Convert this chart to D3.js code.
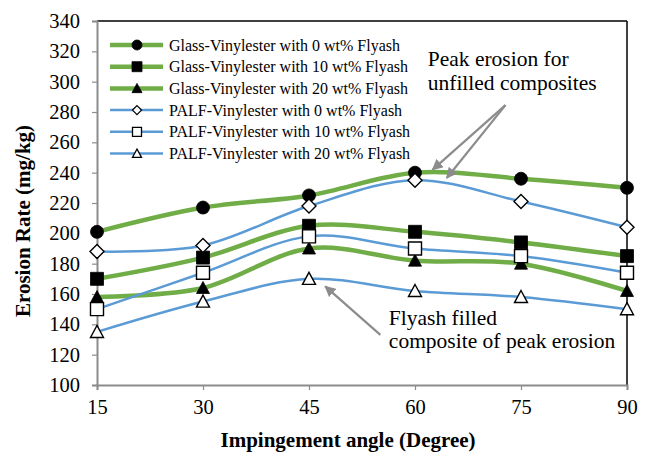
<!DOCTYPE html>
<html>
<head>
<meta charset="utf-8">
<script src="https://cdn.jsdelivr.net/npm/d3@7"></script>
<style>
  body { margin: 0; background: #fff; }
  svg text { font-family: "Liberation Serif", "Times New Roman", serif; fill: #000; }
</style>
</head>
<body>
<svg id="chart" width="649" height="460"></svg>
<script>
// data
const angles = [15, 30, 45, 60, 75, 90];
const glass0 = [201, 217, 225, 240, 236, 230];
const glass10 = [170, 184, 205, 201, 194, 185];
const glass20 = [158, 164, 190, 182, 180, 162];
const palf0 = [188, 192, 218, 235, 221, 204];
const palf10 = [150, 174, 198, 190, 185, 174];
const palf20 = [135, 155, 170, 162, 158, 150];
const yTicks = [100, 120, 140, 160, 180, 200, 220, 240, 260, 280, 300, 320, 340];

const series = [
  { name: "Glass-Vinylester with 0 wt% Flyash", values: glass0, kind: "glass", marker: "circle" },
  { name: "Glass-Vinylester with 10 wt% Flyash", values: glass10, kind: "glass", marker: "square" },
  { name: "Glass-Vinylester with 20 wt% Flyash", values: glass20, kind: "glass", marker: "triangle" },
  { name: "PALF-Vinylester with 0 wt% Flyash", values: palf0, kind: "palf", marker: "diamond" },
  { name: "PALF-Vinylester with 10 wt% Flyash", values: palf10, kind: "palf", marker: "square" },
  { name: "PALF-Vinylester with 20 wt% Flyash", values: palf20, kind: "palf", marker: "triangle" },
];

const GREEN = "#70ad47", BLUE = "#5b9bd5", GREY = "#8c8c8c";
const SERIF = '"Liberation Serif", "Times New Roman", serif';

const margin = { top: 21, right: 22, bottom: 75, left: 97 };
const W = 649, H = 460;
const innerW = W - margin.left - margin.right;
const innerH = H - margin.top - margin.bottom;

const svg = d3.select("#chart");
const g = svg.append("g").attr("transform", `translate(${margin.left},${margin.top})`);

const x = d3.scaleLinear().domain([15, 90]).range([0, innerW]);
const y = d3.scaleLinear().domain([100, 340]).range([innerH, 0]);

// marker paths centred on 0,0
function markerPath(type, s) {
  const h = s / 2;
  if (type === "circle") return d3.symbol(d3.symbolCircle, Math.PI * h * h)();
  if (type === "square") return `M${-h},${-h}H${h}V${h}H${-h}Z`;
  if (type === "diamond") return `M0,${-h}L${h},0L0,${h}L${-h},0Z`;
  if (type === "triangle") return `M0,${-h}L${h},${h * 0.85}L${-h},${h * 0.85}Z`;
}

// frame: top/right black, left/bottom grey axes
g.append("line").attr("x1", 0).attr("x2", innerW).attr("y1", 0).attr("y2", 0)
  .attr("stroke", "#000").attr("stroke-width", 1.5);
g.append("line").attr("x1", innerW).attr("x2", innerW).attr("y1", 0).attr("y2", innerH)
  .attr("stroke", "#000").attr("stroke-width", 1.5);

const yAxis = g.append("g")
  .call(d3.axisLeft(y).tickValues(yTicks).tickSize(5).tickPadding(12));
const xAxis = g.append("g")
  .attr("transform", `translate(0,${innerH})`)
  .call(d3.axisBottom(x).tickValues(angles).tickSize(5).tickPadding(9));

[yAxis, xAxis].forEach(ax => {
  ax.attr("font-family", null);
  ax.select(".domain").attr("stroke", GREY).attr("stroke-width", 2);
  ax.selectAll(".tick line").attr("stroke", GREY).attr("stroke-width", 1.2);
  ax.selectAll(".tick text")
    .style("font-family", SERIF)
    .style("font-size", "20.5px").attr("fill", "#000");
});

// axis titles
svg.append("text")
  .attr("x", 348).attr("y", 447)
  .attr("text-anchor", "middle")
  .style("font-family", SERIF)
  .style("font-size", "21px").style("font-weight", "bold")
  .text("Impingement angle (Degree)");

svg.append("text")
  .attr("transform", "translate(30,221) rotate(-90)")
  .attr("text-anchor", "middle")
  .style("font-family", SERIF)
  .style("font-size", "21px").style("font-weight", "bold")
  .text("Erosion Rate (mg/kg)");

// lines
const line = d3.line()
  .x((d, i) => x(angles[i]))
  .y(d => y(d))
  .curve(d3.curveCatmullRom.alpha(0));

g.selectAll("path.series")
  .data(series)
  .enter()
  .append("path")
  .attr("class", "series")
  .attr("fill", "none")
  .attr("stroke", d => d.kind === "glass" ? GREEN : BLUE)
  .attr("stroke-width", d => d.kind === "glass" ? 4.5 : 2.5)
  .attr("d", d => line(d.values));

// markers
series.forEach(s => {
  g.selectAll(null)
    .data(s.values)
    .enter()
    .append("path")
    .attr("transform", (d, i) => `translate(${x(angles[i])},${y(d)})`)
    .attr("d", markerPath(s.marker, s.marker === "diamond" ? 14 : 13))
    .attr("fill", s.kind === "glass" ? "#000" : "#fff")
    .attr("stroke", "#000")
    .attr("stroke-width", s.kind === "glass" ? 0.8 : 1.4);
});

// legend
const legend = g.append("g").attr("transform", "translate(13,24)");
const rows = legend.selectAll("g.row")
  .data(series)
  .enter()
  .append("g")
  .attr("class", "row")
  .attr("transform", (_, i) => `translate(0,${i * 21.7})`);

rows.append("line")
  .attr("x1", 0).attr("x2", 53).attr("y1", 0).attr("y2", 0)
  .attr("stroke", d => d.kind === "glass" ? GREEN : BLUE)
  .attr("stroke-width", d => d.kind === "glass" ? 4.5 : 2.5);

rows.append("path")
  .attr("transform", "translate(27,0)")
  .attr("d", d => markerPath(d.marker, d.kind === "glass" ? 10 : 9))
  .attr("fill", d => d.kind === "glass" ? "#000" : "#fff")
  .attr("stroke", "#000")
  .attr("stroke-width", d => d.kind === "glass" ? 0.8 : 1.3);

rows.append("text")
  .attr("x", 59).attr("y", 5.5)
  .style("font-family", SERIF)
  .style("font-size", "16px")
  .text(d => d.name);

// annotations (placed in data space)
svg.append("defs").append("marker")
  .attr("id", "arrow")
  .attr("viewBox", "0 0 10 10")
  .attr("refX", 9).attr("refY", 5)
  .attr("markerWidth", 5).attr("markerHeight", 5)
  .attr("orient", "auto")
  .append("path")
  .attr("d", "M0,0L10,5L0,10Z")
  .attr("fill", GREY);

const arrows = [
  { from: [72.8, 284.5], to: [62.5, 242] },
  { from: [72.8, 284.5], to: [64.5, 236.5] },
  { from: [55.1, 133], to: [47.3, 165] },
];
g.selectAll("line.arrow")
  .data(arrows)
  .enter()
  .append("line")
  .attr("class", "arrow")
  .attr("x1", d => x(d.from[0])).attr("y1", d => y(d.from[1]))
  .attr("x2", d => x(d.to[0])).attr("y2", d => y(d.to[1]))
  .attr("stroke", GREY).attr("stroke-width", 2.2)
  .attr("marker-end", "url(#arrow)");

const notes = [
  { x: 61.8, y: 310.5, text: "Peak erosion for" },
  { x: 61.8, y: 294.5, text: "unfilled composites" },
  { x: 56.3, y: 139.5, text: "Flyash filled" },
  { x: 56.3, y: 124.5, text: "composite of peak erosion" },
];
g.selectAll("text.note")
  .data(notes)
  .enter()
  .append("text")
  .attr("class", "note")
  .attr("x", d => x(d.x)).attr("y", d => y(d.y))
  .style("font-family", SERIF)
  .style("font-size", "21.5px")
  .text(d => d.text);
</script>
</body>
</html>
